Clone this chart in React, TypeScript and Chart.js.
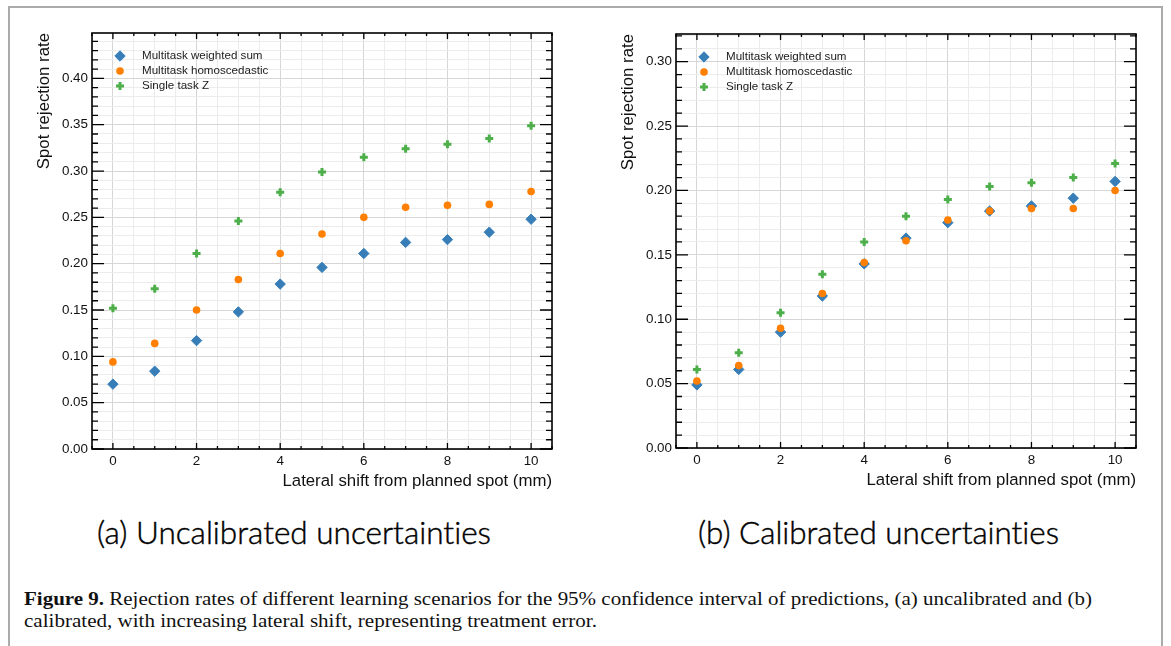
import React, { useEffect, useLayoutEffect, useRef } from 'react';
import { Chart, registerables } from 'chart.js';
import { drawPoint } from 'chart.js/helpers';

Chart.register(...registerables);

// Lateral shift applied to the planned spot (mm)
const shiftMm = [0, 1, 2, 3, 4, 5, 6, 7, 8, 9, 10];

// (a) uncalibrated rejection rates
const uncalWeightedSum = [0.070, 0.084, 0.117, 0.148, 0.178, 0.196, 0.211, 0.223, 0.226, 0.234, 0.248];
const uncalHomoscedastic = [0.094, 0.114, 0.150, 0.183, 0.211, 0.232, 0.250, 0.261, 0.263, 0.264, 0.278];
const uncalSingleTaskZ = [0.152, 0.173, 0.211, 0.246, 0.277, 0.299, 0.315, 0.324, 0.329, 0.335, 0.349];

// (b) calibrated rejection rates
const calWeightedSum = [0.049, 0.061, 0.090, 0.118, 0.143, 0.163, 0.175, 0.184, 0.188, 0.194, 0.207];
const calHomoscedastic = [0.052, 0.064, 0.093, 0.120, 0.144, 0.161, 0.177, 0.184, 0.186, 0.186, 0.200];
const calSingleTaskZ = [0.061, 0.074, 0.105, 0.135, 0.160, 0.180, 0.193, 0.203, 0.206, 0.210, 0.221];

const seriesNames = ['Multitask weighted sum', 'Multitask homoscedastic', 'Single task Z'];
const seriesColors = ['#377eb8', '#ff7f00', '#4daf4a'];

// Axis ranges and tick spacing
const xRange = [-0.5, 10.5];
const xMinorStep = 0.5;
const xLabelStep = 2;
const yMinorStep = 0.01;
const yLabelStep = 0.05;
const uncalYMax = 0.449;
const calYMax = 0.3215;

const yTitle = 'Spot rejection rate';
const xTitle = 'Lateral shift from planned spot (mm)';
const panelTitles = ['(a) Uncalibrated uncertainties', '(b) Calibrated uncertainties'];

const SANS = '"Liberation Sans", Arial, Helvetica, sans-serif';

const markerStyles = [
  { pointStyle: 'rectRot', radius: 5.2, borderWidth: 1 },
  { pointStyle: 'circle', radius: 3.8, borderWidth: 0 },
  { pointStyle: 'cross', radius: 4, borderWidth: 3 },
];

const isXMajor = (v: number) => Math.abs(v / xLabelStep - Math.round(v / xLabelStep)) < 1e-6;
const isYMajor = (v: number) => Math.abs(v / yLabelStep - Math.round(v / yLabelStep)) < 1e-6;

const xTickValues = Array.from(
  { length: Math.round((xRange[1] - xRange[0]) / xMinorStep) + 1 },
  (_, i) => xRange[0] + i * xMinorStep
);
const yTickValues = (yMax: number) =>
  Array.from({ length: Math.floor(yMax / yMinorStep + 1e-6) + 1 }, (_, i) => Math.round(i * yMinorStep * 1000) / 1000);

// Inward ticks on all four sides, the axes box and the legend in the upper left.
const framePlugin = {
  id: 'frameTicks',
  afterDatasetsDraw(chart: any) {
    const { ctx, chartArea, scales } = chart;
    const { left, right, top, bottom } = chartArea;
    const x = scales.x;
    const y = scales.y;
    ctx.save();
    ctx.strokeStyle = '#000';
    ctx.lineWidth = 1.3;
    ctx.beginPath();
    x.ticks.forEach((t: any) => {
      const px = x.getPixelForValue(t.value);
      const len = isXMajor(t.value) ? 6 : 3;
      ctx.moveTo(px, bottom);
      ctx.lineTo(px, bottom - len);
      ctx.moveTo(px, top);
      ctx.lineTo(px, top + len);
    });
    y.ticks.forEach((t: any) => {
      const py = y.getPixelForValue(t.value);
      const len = isYMajor(t.value) ? 12 : 6;
      ctx.moveTo(left, py);
      ctx.lineTo(left + len, py);
      ctx.moveTo(right, py);
      ctx.lineTo(right - len, py);
    });
    ctx.stroke();
    ctx.lineWidth = 1.6;
    ctx.strokeRect(left, top, right - left, bottom - top);

    ctx.font = `11.6px ${SANS}`;
    ctx.textBaseline = 'middle';
    ctx.textAlign = 'left';
    chart.data.datasets.forEach((ds: any, i: number) => {
      const cy = top + 23 + i * 15;
      const m = markerStyles[i];
      ctx.fillStyle = seriesColors[i];
      ctx.strokeStyle = seriesColors[i];
      ctx.lineWidth = m.borderWidth;
      drawPoint(ctx, { pointStyle: m.pointStyle as any, radius: m.radius, borderWidth: m.borderWidth, rotation: 0 }, left + 28, cy);
      ctx.fillStyle = '#1a1a1a';
      ctx.fillText(ds.label, left + 50, cy);
    });
    ctx.restore();
  },
};

type PanelProps = {
  left: number;
  top: number;
  series: number[][];
  yMax: number;
  padTop: number;
  padBottom: number;
};

function Panel({ left, top, series, yMax, padTop, padBottom }: PanelProps) {
  const ref = useRef<HTMLCanvasElement>(null);
  useEffect(() => {
    const yTicks = yTickValues(yMax);
    const chart = new Chart(ref.current as HTMLCanvasElement, {
      type: 'scatter',
      data: {
        datasets: series.map((vals, i) => ({
          label: seriesNames[i],
          data: shiftMm.map((x, j) => ({ x, y: vals[j] })),
          pointStyle: markerStyles[i].pointStyle as any,
          pointRadius: markerStyles[i].radius,
          pointBorderWidth: markerStyles[i].borderWidth,
          backgroundColor: seriesColors[i],
          borderColor: seriesColors[i],
          order: 3 - i,
        })),
      },
      options: {
        responsive: false,
        maintainAspectRatio: false,
        animation: false,
        devicePixelRatio: 1,
        layout: { padding: { left: 0, right: 13, top: padTop, bottom: padBottom } },
        plugins: { legend: { display: false }, tooltip: { enabled: false } },
        scales: {
          x: {
            type: 'linear',
            min: xRange[0],
            max: xRange[1],
            afterBuildTicks: (s: any) => {
              s.ticks = xTickValues.map((v) => ({ value: v }));
            },
            afterFit: (s: any) => {
              s.height = 45;
            },
            ticks: {
              autoSkip: false,
              maxRotation: 0,
              padding: 4,
              color: '#111',
              font: { family: SANS, size: 13.4 },
              callback: (v: any) => (isXMajor(Number(v)) ? String(Math.round(Number(v))) : ''),
            },
            grid: {
              drawTicks: false,
              lineWidth: 1,
              color: (c: any) => (c.tick && isXMajor(c.tick.value) ? '#d6d6d6' : '#ececec'),
            },
            border: { display: false },
            title: {
              display: true,
              text: xTitle,
              align: 'end',
              color: '#111',
              font: { family: SANS, size: 16.8 },
              padding: { top: 0, bottom: 3 },
            },
          },
          y: {
            type: 'linear',
            min: 0,
            max: yMax,
            afterBuildTicks: (s: any) => {
              s.ticks = yTicks.map((v) => ({ value: v }));
            },
            afterFit: (s: any) => {
              s.width = 72;
            },
            ticks: {
              autoSkip: false,
              padding: 4,
              color: '#111',
              font: { family: SANS, size: 13.4 },
              callback: (v: any) => (isYMajor(Number(v)) ? Number(v).toFixed(2) : ''),
            },
            grid: {
              drawTicks: false,
              lineWidth: 1,
              color: (c: any) => (c.tick && isYMajor(c.tick.value) ? '#d6d6d6' : '#ececec'),
            },
            border: { display: false },
            title: {
              display: true,
              text: yTitle,
              align: 'end',
              color: '#111',
              font: { family: SANS, size: 16.8 },
              padding: { top: 14, bottom: 0 },
            },
          },
        },
      },
      plugins: [framePlugin],
    } as any);
    return () => chart.destroy();
  }, []);
  return (
    <canvas
      ref={ref}
      width={545}
      height={480}
      style={{ position: 'absolute', left, top, width: 545, height: 480 }}
    />
  );
}

// A single line of text squeezed or stretched to a given width.
function FitLine({ children, width, style }: { children: React.ReactNode; width: number; style: React.CSSProperties }) {
  const ref = useRef<HTMLDivElement>(null);
  useLayoutEffect(() => {
    const el = ref.current;
    if (!el) return;
    el.style.transform = 'none';
    const w = el.getBoundingClientRect().width;
    if (w > 0) el.style.transform = `scaleX(${width / w})`;
  });
  return (
    <div
      ref={ref}
      style={{ position: 'absolute', whiteSpace: 'nowrap', transformOrigin: 'left center', ...style }}
    >
      {children}
    </div>
  );
}

export default function App() {
  const subtitleStyle: React.CSSProperties = {
    fontFamily: 'Lato, "Open Sans", sans-serif',
    fontWeight: 300,
    fontSize: 32,
    lineHeight: '32px',
    color: '#000',
    top: 516,
    fontVariantLigatures: 'none',
    WebkitTextStroke: '0.45px #000',
  };
  const captionStyle: React.CSSProperties = {
    fontFamily: '"Liberation Serif", "Times New Roman", serif',
    fontSize: 19.5,
    lineHeight: '22px',
    color: '#111',
    left: 24,
  };
  return (
    <div style={{ position: 'absolute', left: 0, top: 0, width: 1171, height: 646, background: '#fff', overflow: 'hidden' }}>
      <div
        style={{
          position: 'absolute',
          left: 8,
          top: 6,
          width: 1155,
          height: 700,
          boxSizing: 'border-box',
          border: '2px solid #ababab',
        }}
      />
      <Panel left={20} top={20} series={[uncalWeightedSum, uncalHomoscedastic, uncalSingleTaskZ]} yMax={uncalYMax} padTop={13} padBottom={6} />
      <Panel left={604} top={20} series={[calWeightedSum, calHomoscedastic, calSingleTaskZ]} yMax={calYMax} padTop={14} padBottom={7} />
      <FitLine width={394} style={{ ...subtitleStyle, left: 97 }}>{panelTitles[0]}</FitLine>
      <FitLine width={361} style={{ ...subtitleStyle, left: 698 }}>{panelTitles[1]}</FitLine>
      <FitLine width={1068} style={{ ...captionStyle, top: 588 }}>
        <b>Figure 9.</b> Rejection rates of different learning scenarios for the 95% confidence interval of predictions, (a) uncalibrated and (b)
      </FitLine>
      <FitLine width={573} style={{ ...captionStyle, top: 610 }}>
        calibrated, with increasing lateral shift, representing treatment error.
      </FitLine>
    </div>
  );
}
